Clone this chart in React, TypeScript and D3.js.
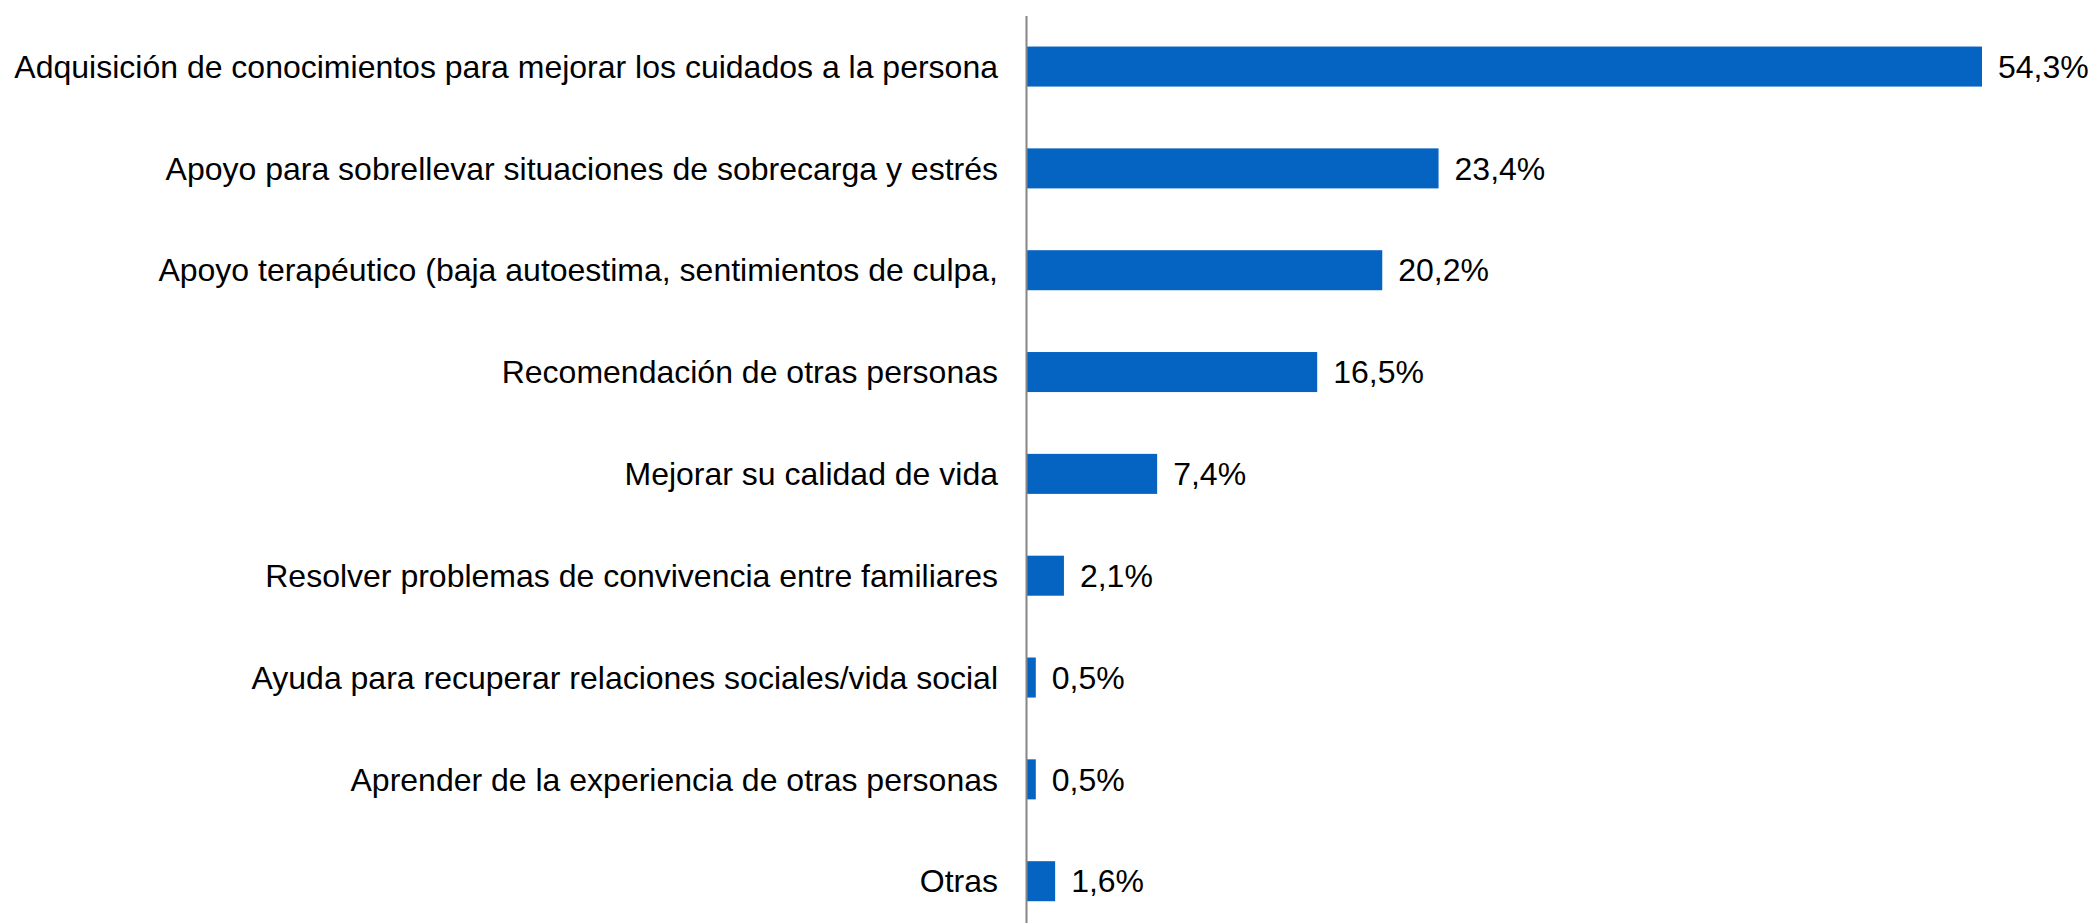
import * as d3 from "d3";
import { useEffect, useRef } from "react";

const categories = [
  "Adquisición de conocimientos para mejorar los cuidados a la persona",
  "Apoyo para sobrellevar situaciones de sobrecarga y estrés",
  "Apoyo terapéutico (baja autoestima, sentimientos de culpa,",
  "Recomendación de otras personas",
  "Mejorar su calidad de vida",
  "Resolver problemas de convivencia entre familiares",
  "Ayuda para recuperar relaciones sociales/vida social",
  "Aprender de la experiencia de otras personas",
  "Otras",
];
const values = [54.3, 23.4, 20.2, 16.5, 7.4, 2.1, 0.5, 0.5, 1.6];

const fmt = (v: number) => v.toFixed(1).replace(".", ",") + "%";

export default function App() {
  const ref = useRef<SVGSVGElement | null>(null);

  useEffect(() => {
    if (!ref.current) return;
    const width = 2095;
    const height = 923;
    const axisX = 1027;

    const svg = d3.select(ref.current);
    svg.selectAll("*").remove();

    const x = d3.scaleLinear().domain([0, 54.3]).range([axisX, 1982]);
    const y = d3
      .scaleBand()
      .domain(categories)
      .range([16, 16 + 101.75 * 9])
      .paddingInner(0.607)
      .paddingOuter(0.3);

    const font = "'Liberation Sans', Arial, sans-serif";
    const barW = (d: number) => Math.max(x(d) - axisX, 8);

    // bars
    svg
      .append("g")
      .selectAll("rect")
      .data(values)
      .join("rect")
      .attr("x", axisX)
      .attr("y", (_, i) => y(categories[i])!)
      .attr("width", (d) => barW(d))
      .attr("height", y.bandwidth())
      .attr("fill", "#0563C1");

    // value labels
    svg
      .append("g")
      .selectAll("text")
      .data(values)
      .join("text")
      .attr("x", (d) => axisX + barW(d) + 16)
      .attr("y", (_, i) => y(categories[i])! + y.bandwidth() / 2)
      .attr("dy", "0.35em")
      .attr("font-family", font)
      .attr("font-size", 32)
      .attr("fill", "#000")
      .text((d) => fmt(d));

    // category labels
    svg
      .append("g")
      .selectAll("text")
      .data(categories)
      .join("text")
      .attr("x", 998)
      .attr("y", (d) => y(d)! + y.bandwidth() / 2)
      .attr("dy", "0.35em")
      .attr("text-anchor", "end")
      .attr("font-family", font)
      .attr("font-size", 32)
      .attr("fill", "#000")
      .text((d) => d);

    // axis line
    svg
      .append("line")
      .attr("x1", axisX - 0.5)
      .attr("x2", axisX - 0.5)
      .attr("y1", 16)
      .attr("y2", height)
      .attr("stroke", "#868686")
      .attr("stroke-width", 2);

    svg.attr("width", width).attr("height", height);
  }, []);

  return (
    <svg
      ref={ref}
      width={2095}
      height={923}
      style={{ position: "absolute", left: 0, top: 0, display: "block", background: "#fff" }}
    ></svg>
  );
}
